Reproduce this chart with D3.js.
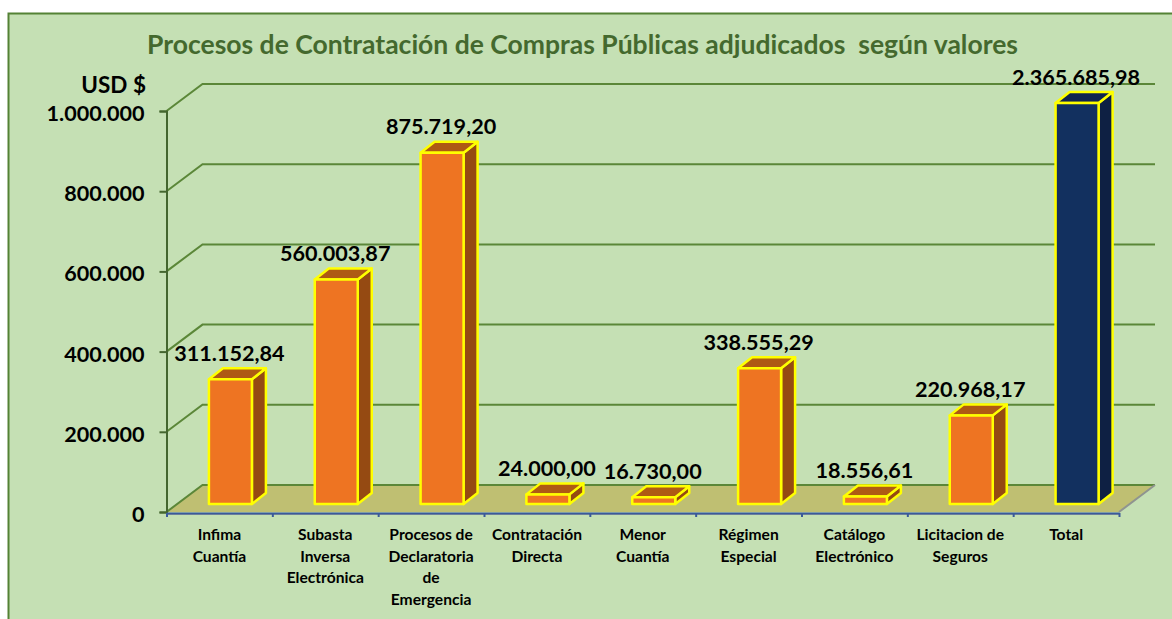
<!DOCTYPE html>
<html>
<head>
<meta charset="utf-8">
<script src="https://cdn.jsdelivr.net/npm/d3@7"></script>
<style>
  html, body { margin: 0; padding: 0; background: #fff; }
  text { font-family: Lato, "Open Sans", sans-serif; font-weight: 700; }
</style>
</head>
<body>
<div id="chart"></div>
<script>
const categories = [
    ["Infima", "Cuantía"],
    ["Subasta", "Inversa", "Electrónica"],
    ["Procesos de", "Declaratoria", "de", "Emergencia"],
    ["Contratación", "Directa"],
    ["Menor", "Cuantía"],
    ["Régimen", "Especial"],
    ["Catálogo", "Electrónico"],
    ["Licitacion de", "Seguros"],
    ["Total"]
];
const values = [311152.84, 560003.87, 875719.20, 24000, 16730, 338555.29, 18556.61, 220968.17, 2365685.98];
const valueLabels = ["311.152,84", "560.003,87", "875.719,20", "24.000,00", "16.730,00", "338.555,29", "18.556,61", "220.968,17", "2.365.685,98"];
const yTicks = [0, 200000, 400000, 600000, 800000, 1000000];
const yTickLabels = ["0", "200.000", "400.000", "600.000", "800.000", "1.000.000"];
const titleText = "Procesos de Contratación de Compras Públicas adjudicados  según valores";

const width = 1172, height = 619;
const plot = {left: 166.5, right: 1119, top: 111, bottom: 512};
const depth = {x: 36, y: -27};     // floor / wall offset of the 3d box
const barOff = {x: 11, y: -8};     // bars stand inside the floor
const side = {x: 14, y: -11};      // depth of each bar
const barW = 43;

const svg = d3.select("#chart").append("svg")
    .attr("width", width)
    .attr("height", height)
    .style("display", "block");

// background panel, runs off the page on the right and at the bottom
svg.append("rect")
    .attr("x", 8.5).attr("y", 13.5)
    .attr("width", 1200).attr("height", 640)
    .attr("fill", "#c5e0b4")
    .attr("stroke", "#548235")
    .attr("stroke-width", 2);

svg.append("text")
    .attr("x", 582.5).attr("y", 54)
    .attr("text-anchor", "middle")
    .attr("fill", "#44692e")
    .style("font-size", "26.5px")
    .style("white-space", "pre")
    .text(titleText);

svg.append("text")
    .attr("x", 146).attr("y", 93)
    .attr("text-anchor", "end")
    .attr("fill", "#000")
    .style("font-size", "22.5px")
    .text("USD $");

const x = d3.scaleBand()
    .domain(d3.range(categories.length))
    .range([plot.left, plot.right]);

// Total goes way over the axis maximum so the scale is clamped
const y = d3.scaleLinear()
    .domain([0, 1000000])
    .range([plot.bottom, plot.top])
    .clamp(true);

// floor
const floor = [
    [plot.left, plot.bottom],
    [plot.left + depth.x, plot.bottom + depth.y],
    [plot.right + depth.x, plot.bottom + depth.y],
    [plot.right, plot.bottom]
];
svg.append("polygon")
    .attr("points", floor.join(" "))
    .attr("fill", "#bfbf72");

// gridlines: diagonal on the side wall and then along the back wall
svg.append("g")
    .selectAll("path")
    .data(yTicks)
    .join("path")
    .attr("d", d => `M${plot.left},${y(d)}L${plot.left + depth.x},${y(d) + depth.y}L${plot.right + depth.x},${y(d) + depth.y}`)
    .attr("fill", "none")
    .attr("stroke", "#5b8738")
    .attr("stroke-width", 2);

// right edge of the floor
svg.append("line")
    .attr("x1", plot.right).attr("y1", plot.bottom)
    .attr("x2", plot.right + depth.x).attr("y2", plot.bottom + depth.y)
    .attr("stroke", "#8f9490")
    .attr("stroke-width", 2);

// soft grey shadow under the x axis
svg.append("line")
    .attr("x1", plot.left).attr("y1", plot.bottom + 2.5)
    .attr("x2", plot.right).attr("y2", plot.bottom + 2.5)
    .attr("stroke", "#9aa3a0")
    .attr("stroke-width", 1);

// Y axis
const yAxis = svg.append("g")
    .attr("transform", `translate(${plot.left}, 0)`)
    .call(d3.axisLeft(y)
        .tickValues(yTicks)
        .tickSize(7)
        .tickPadding(15)
        .tickFormat((d, i) => yTickLabels[i]));
yAxis.selectAll("path, line").attr("stroke", "#44662f").attr("stroke-width", 2);
yAxis.selectAll("text")
    .attr("fill", "#000")
    .attr("dy", "0.44em")
    .style("font-size", "21.6px");

// X axis
const xAxisScale = d3.scaleLinear()
    .domain([0, categories.length])
    .range([plot.left, plot.right]);
const xAxis = svg.append("g")
    .attr("transform", `translate(0, ${plot.bottom + 1})`)
    .call(d3.axisBottom(xAxisScale)
        .tickValues(d3.range(categories.length + 1))
        .tickSize(4)
        .tickSizeOuter(0)
        .tickFormat(""));
xAxis.selectAll("path, line").attr("stroke", "#3a5a9a").attr("stroke-width", 2);

// category labels, one tspan per line
svg.append("g")
    .selectAll("text")
    .data(categories)
    .join("text")
    .attr("text-anchor", "middle")
    .attr("fill", "#000")
    .style("font-size", "15.6px")
    .attr("y", 540)
    .each(function (lines, i) {
        d3.select(this).selectAll("tspan")
            .data(lines)
            .join("tspan")
            .attr("x", x(i) + x.bandwidth() / 2)
            .attr("dy", (d, j) => j === 0 ? 0 : 21.5)
            .text(d => d);
    });

// bars: front face, top, right side
const bars = svg.append("g")
    .selectAll("g")
    .data(values)
    .join("g")
    .attr("transform", (d, i) => `translate(${x(i) + (x.bandwidth() - barW) / 2 + barOff.x}, ${barOff.y})`);

const fillFront = i => i === 8 ? "#12305f" : "#ee7422";
const fillSide = i => i === 8 ? "#0e2043" : "#954a12";
const fillTop = i => i === 8 ? "#0f2350" : "#ae5a14";

bars.append("polygon")
    .attr("points", d => [[barW, y(d)], [barW + side.x, y(d) + side.y], [barW + side.x, plot.bottom + side.y], [barW, plot.bottom]].join(" "))
    .attr("fill", (d, i) => fillSide(i));
bars.append("polygon")
    .attr("points", d => [[0, y(d)], [side.x, y(d) + side.y], [barW + side.x, y(d) + side.y], [barW, y(d)]].join(" "))
    .attr("fill", (d, i) => fillTop(i));
bars.append("rect")
    .attr("x", 0)
    .attr("y", d => y(d))
    .attr("width", barW)
    .attr("height", d => plot.bottom - y(d))
    .attr("fill", (d, i) => fillFront(i));
bars.selectAll("polygon, rect")
    .attr("stroke", "#ffff00")
    .attr("stroke-width", 2.5)
    .attr("stroke-linejoin", "round");

// value labels above each bar
svg.append("g")
    .selectAll("text")
    .data(values)
    .join("text")
    .attr("x", (d, i) => x(i) + x.bandwidth() / 2 + 10)
    .attr("y", d => y(d) - 26.5)
    .attr("text-anchor", "middle")
    .attr("fill", "#000")
    .style("font-size", "21.6px")
    .text((d, i) => valueLabels[i]);
</script>
</body>
</html>
